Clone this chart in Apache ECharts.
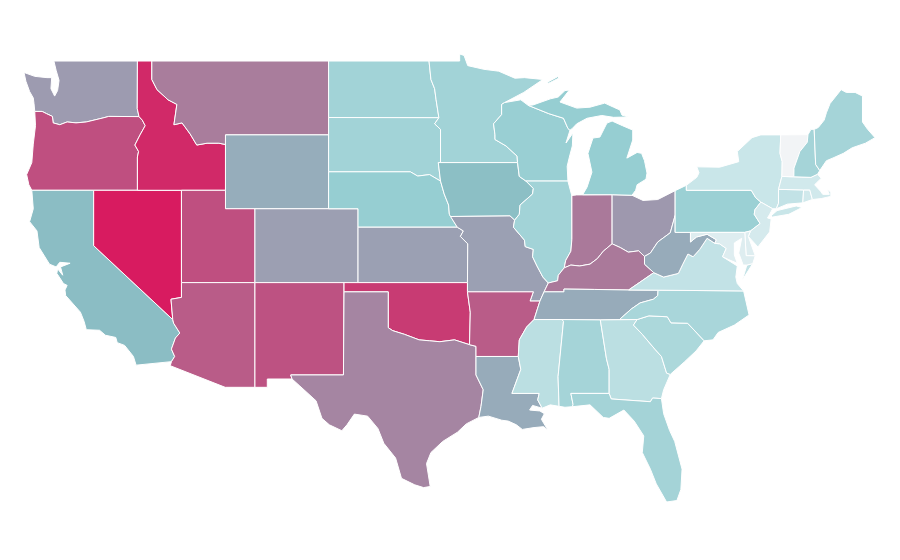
<!DOCTYPE html>
<html><head><meta charset="utf-8">
<style>html,body{margin:0;padding:0;background:#fff}#c{width:900px;height:560px}</style>
<script src="https://cdn.jsdelivr.net/npm/echarts@6/dist/echarts.min.js"></script>
</head><body><div id="c"></div>
<script>
// Reading of each state's shade, on a 0-100 scale
const highShare = ["Nevada","Idaho","Oklahoma","Oregon","Utah","New Mexico","Arizona","Arkansas"];
const highValues = [100,96,91,85,85,84,81,81];
const midShare = ["Indiana","Kentucky","Montana","Texas","Ohio","Washington","Colorado","Kansas","Missouri","West Virginia","Tennessee","Louisiana","Wyoming"];
const midValues = [72,72,71,68,61,60,58,57,57,51,51,51,50];
const lowShare = ["California","Iowa","Michigan","Nebraska","Wisconsin","Pennsylvania","Illinois","Minnesota","North Dakota","South Dakota","Florida","Alabama","New Hampshire","Maine","North Carolina","South Carolina","Georgia","Mississippi"];
const lowValues = [40,39,30,30,28,27,22,22,22,22,21,20,20,20,19,18,14,14];
const leastShare = ["Connecticut","Virginia","New York","Massachusetts","Rhode Island","New Jersey","Delaware","Maryland","Vermont"];
const leastValues = [12,12,10,8,8,7,5,5,0];
const shadeRamp = ['#f2f4f6','#c9e6e9','#a5d4d8','#96ced2','#8bbdc4','#96adbb','#9d9bb0','#a7809e','#b75f8a','#c63e75','#d81b60'];

// Base map: simplified state outlines in longitude/latitude
const outlines = {
"Washington":[[[-122.7,49],[-117.03,49],[-117.04,46.42],[-116.92,45.99],[-118.98,46],[-119.3,45.93],[-120.5,45.7],[-121.2,45.65],[-121.8,45.7],[-122.3,45.55],[-122.75,45.65],[-122.8,46],[-123.2,46.15],[-123.5,46.27],[-124,46.27],[-124.05,46.7],[-124.1,47],[-124.35,47.35],[-124.6,47.9],[-124.73,48.38],[-124,48.17],[-123.17,48.1],[-122.85,48.1],[-122.9,47.5],[-122.65,47.1],[-122.45,47.4],[-122.35,47.95],[-122.55,48.5]]],
"Oregon":[[[-124,46.27],[-123.5,46.27],[-123.2,46.15],[-122.8,46],[-122.75,45.65],[-122.3,45.55],[-121.8,45.7],[-121.2,45.65],[-120.5,45.7],[-119.3,45.93],[-118.98,46],[-116.92,45.99],[-116.7,45.8],[-116.5,45.5],[-116.85,45],[-117.2,44.45],[-116.95,44.1],[-117.03,43.8],[-117.03,42],[-124.2,42],[-124.4,42.3],[-124.55,42.85],[-124.2,43.5],[-124.1,44.5],[-123.95,45.5]]],
"California":[[[-124.2,42],[-120,42],[-120,39],[-114.63,35],[-114.57,34.8],[-114.15,34.27],[-114.45,34],[-114.72,33.4],[-114.5,33],[-114.72,32.72],[-117.12,32.53],[-117.3,33],[-117.9,33.6],[-118.4,33.75],[-118.5,34.03],[-119.2,34.15],[-119.6,34.42],[-120.5,34.45],[-120.65,34.9],[-120.9,35.4],[-121.9,36.3],[-121.95,36.6],[-121.8,36.85],[-122.05,36.95],[-122.5,37.5],[-122.45,37.75],[-122.1,37.4],[-122.25,37.85],[-121.6,38.05],[-122.3,38.1],[-122.55,37.85],[-123,38],[-123.7,38.9],[-123.85,39.8],[-124.35,40.3],[-124.1,41]]],
"Nevada":[[[-120,42],[-114.04,42],[-114.04,36.2],[-114.75,36.1],[-114.63,35],[-120,39]]],
"Idaho":[[[-117.03,49],[-116.05,49],[-116.05,48],[-115.7,47.45],[-114.95,46.9],[-114.35,46.65],[-114.55,45.55],[-114,45.65],[-113.45,45.05],[-113,44.45],[-112.3,44.55],[-111.5,44.55],[-111.05,44.48],[-111.05,42],[-117.03,42],[-117.03,43.8],[-116.95,44.1],[-117.2,44.45],[-116.85,45],[-116.5,45.5],[-116.7,45.8],[-116.92,45.99],[-117.04,46.42]]],
"Montana":[[[-116.05,49],[-104.05,49],[-104.05,45],[-111.05,45],[-111.05,44.48],[-111.5,44.55],[-112.3,44.55],[-113,44.45],[-113.45,45.05],[-114,45.65],[-114.55,45.55],[-114.35,46.65],[-114.95,46.9],[-115.7,47.45],[-116.05,48]]],
"Wyoming":[[[-111.05,45],[-104.05,45],[-104.05,41],[-111.05,41]]],
"Utah":[[[-114.04,42],[-111.05,42],[-111.05,41],[-109.05,41],[-109.05,37],[-114.04,37]]],
"Colorado":[[[-109.05,41],[-102.05,41],[-102.05,37],[-109.05,37]]],
"Arizona":[[[-114.04,37],[-109.05,37],[-109.05,31.33],[-111.07,31.33],[-114.8,32.5],[-114.72,32.72],[-114.5,33],[-114.72,33.4],[-114.45,34],[-114.15,34.27],[-114.57,34.8],[-114.63,35],[-114.75,36.1],[-114.04,36.2]]],
"New Mexico":[[[-109.05,37],[-103,37],[-103.04,32],[-106.62,32],[-106.53,31.78],[-108.21,31.78],[-108.21,31.33],[-109.05,31.33]]],
"North Dakota":[[[-104.05,49],[-97.23,49],[-97.1,48],[-96.85,47.5],[-96.75,46.9],[-96.56,45.93],[-104.05,45.94]]],
"South Dakota":[[[-104.05,45.94],[-96.56,45.93],[-96.85,45.6],[-96.45,45.3],[-96.45,43.5],[-96.6,43.5],[-96.45,42.5],[-97.2,42.85],[-98,42.77],[-98.5,43],[-104.05,43]]],
"Nebraska":[[[-104.05,43],[-98.5,43],[-98,42.77],[-97.2,42.85],[-96.45,42.5],[-96.2,41.8],[-95.9,41.2],[-95.85,40.7],[-95.31,40],[-102.05,40],[-102.05,41],[-104.05,41]]],
"Kansas":[[[-102.05,40],[-95.31,40],[-94.9,39.8],[-95.1,39.5],[-94.6,39.1],[-94.62,37],[-102.05,37]]],
"Oklahoma":[[[-103,37],[-94.62,37],[-94.62,36.5],[-94.43,35.4],[-94.48,33.64],[-95.5,33.9],[-96.5,33.8],[-97.2,33.85],[-97.9,33.9],[-98.9,34.2],[-99.7,34.4],[-100,34.56],[-100,36.5],[-103,36.5]]],
"Texas":[[[-103,36.5],[-100,36.5],[-100,34.56],[-99.7,34.4],[-98.9,34.2],[-97.9,33.9],[-97.2,33.85],[-96.5,33.8],[-95.5,33.9],[-94.48,33.64],[-94.04,33.55],[-94.04,32],[-93.55,31.2],[-93.7,30.3],[-93.85,29.7],[-94.7,29.35],[-95.3,28.9],[-96.3,28.4],[-97.1,27.8],[-97.4,27.2],[-97.15,25.96],[-97.6,25.9],[-98.2,26.05],[-99.1,26.4],[-99.5,27.5],[-100.3,28.3],[-100.7,29.1],[-101.4,29.77],[-102.3,29.88],[-102.8,29.3],[-103.15,28.98],[-104,29.3],[-104.5,29.65],[-104.9,30.6],[-106,31.4],[-106.53,31.78],[-106.62,32],[-103.04,32]]],
"Minnesota":[[[-97.23,49],[-95.15,49],[-95.15,49.38],[-94.85,49.3],[-94.6,48.75],[-93.5,48.55],[-92.5,48.45],[-91.4,48.07],[-90.75,48.1],[-89.5,48],[-90.8,47.3],[-92.1,46.75],[-92.3,46.65],[-92.3,46.1],[-92.85,45.6],[-92.75,45],[-92.75,44.75],[-92,44.4],[-91.25,43.85],[-91.22,43.5],[-96.45,43.5],[-96.45,45.3],[-96.85,45.6],[-96.56,45.93],[-96.75,46.9],[-96.85,47.5],[-97.1,48]]],
"Iowa":[[[-96.6,43.5],[-91.22,43.5],[-91.1,42.75],[-90.65,42.5],[-90.15,42.1],[-90.2,41.8],[-91.05,41.2],[-91.1,40.7],[-91.42,40.38],[-91.73,40.61],[-95.77,40.58],[-95.85,40.7],[-95.9,41.2],[-96.2,41.8],[-96.45,42.5]]],
"Missouri":[[[-95.77,40.58],[-91.73,40.61],[-91.42,40.38],[-91.5,40],[-90.75,39.3],[-90.7,38.95],[-90.15,38.8],[-90.2,38.4],[-89.9,37.9],[-89.5,37.3],[-89.13,36.98],[-89.42,36.5],[-89.7,36],[-90.37,36],[-90.15,36.5],[-94.62,36.5],[-94.62,37],[-94.6,39.1],[-95.1,39.5],[-94.9,39.8],[-95.31,40]]],
"Arkansas":[[[-94.62,36.5],[-90.15,36.5],[-90.37,36],[-89.7,36],[-90.1,35],[-90.6,34.6],[-91.1,33.9],[-91.17,33],[-94.04,33],[-94.04,33.55],[-94.48,33.64],[-94.43,35.4]]],
"Louisiana":[[[-94.04,33],[-91.17,33],[-91,32.3],[-91.6,31],[-89.75,31],[-89.85,30.65],[-89.55,30.2],[-90.2,30.35],[-90.4,30.1],[-89.7,30.05],[-89.4,29.9],[-89.6,29.6],[-89.15,29],[-89.45,29.2],[-90.1,29.15],[-90.9,29.05],[-91.3,29.3],[-91.85,29.5],[-92.3,29.55],[-93.2,29.77],[-93.85,29.7],[-93.7,30.3],[-93.55,31.2],[-94.04,32]]],
"Wisconsin":[[[-92.1,46.75],[-91,46.9],[-90.5,46.6],[-89.1,46.15],[-88.1,45.9],[-87.8,45.35],[-87.66,45.25],[-87.93,44.56],[-87.46,45.1],[-87.5,44.4],[-87.7,43.8],[-87.85,43.3],[-87.8,42.5],[-90.65,42.5],[-91.1,42.75],[-91.22,43.5],[-91.25,43.85],[-92,44.4],[-92.75,44.75],[-92.75,45],[-92.85,45.6],[-92.3,46.1],[-92.3,46.65]]],
"Illinois":[[[-90.65,42.5],[-87.8,42.5],[-87.55,41.75],[-87.53,39.35],[-87.6,38.7],[-87.95,38.2],[-88.05,37.8],[-88.45,37.4],[-88.5,37.1],[-89.13,36.98],[-89.5,37.3],[-89.9,37.9],[-90.2,38.4],[-90.15,38.8],[-90.7,38.95],[-90.75,39.3],[-91.5,40],[-91.42,40.38],[-91.1,40.7],[-91.05,41.2],[-90.2,41.8],[-90.15,42.1]]],
"Indiana":[[[-87.53,41.72],[-87.2,41.75],[-84.8,41.76],[-84.8,39.1],[-85.4,38.7],[-85.8,38.3],[-86.3,38],[-87,37.9],[-87.6,37.95],[-88.05,37.8],[-87.95,38.2],[-87.6,38.7],[-87.53,39.35]]],
"Ohio":[[[-84.8,41.76],[-83.45,41.73],[-82.7,41.45],[-81.7,41.5],[-80.52,41.98],[-80.52,40.64],[-80.85,39.7],[-81.7,39.2],[-82.2,38.6],[-82.6,38.42],[-83,38.72],[-83.7,38.65],[-84.25,38.9],[-84.8,39.1]]],
"Kentucky":[[[-89.42,36.5],[-89.13,36.98],[-88.5,37.1],[-88.45,37.4],[-88.05,37.8],[-87.6,37.95],[-87,37.9],[-86.3,38],[-85.8,38.3],[-85.4,38.7],[-84.8,39.1],[-84.25,38.9],[-83.7,38.65],[-83,38.72],[-82.6,38.42],[-82.6,38],[-81.97,37.54],[-83.68,36.6],[-86,36.63],[-88.07,36.65],[-88.07,36.5]]],
"Tennessee":[[[-89.42,36.5],[-88.07,36.5],[-88.07,36.65],[-86,36.63],[-83.68,36.6],[-81.68,36.59],[-81.7,36.3],[-82,36.1],[-82.9,35.9],[-83.5,35.57],[-84.3,35],[-85.6,34.98],[-88.2,35],[-90.1,35],[-89.7,36]]],
"Mississippi":[[[-90.1,35],[-88.2,35],[-88.1,34.9],[-88.47,31.9],[-88.4,30.3],[-89,30.38],[-89.55,30.2],[-89.85,30.65],[-89.75,31],[-91.6,31],[-91,32.3],[-91.17,33],[-91.1,33.9],[-90.6,34.6]]],
"Alabama":[[[-88.2,35],[-85.6,34.98],[-85.18,32.87],[-85,32.3],[-85,31],[-87.6,31],[-87.45,30.4],[-87.5,30.28],[-88,30.25],[-88.4,30.3],[-88.47,31.9],[-88.1,34.9]]],
"Georgia":[[[-85.6,34.98],[-83.1,35],[-83.35,34.7],[-82.75,34.2],[-81.9,33.4],[-81.45,33],[-81.1,32.1],[-80.85,32.03],[-81.3,31.2],[-81.45,30.72],[-82.05,30.75],[-82.2,30.55],[-84.86,30.7],[-85,31],[-85,32.3],[-85.18,32.87]]],
"Florida":[[[-87.6,31],[-85,31],[-84.86,30.7],[-82.2,30.55],[-82.05,30.75],[-81.45,30.72],[-81.3,29.9],[-80.9,29],[-80.55,28.4],[-80.05,26.9],[-80.13,25.8],[-80.4,25.2],[-81.1,25.12],[-81.8,26.1],[-82.2,26.9],[-82.75,27.8],[-82.65,28.7],[-83.3,29.5],[-84,30.1],[-85,29.65],[-85.4,29.7],[-86.3,30.38],[-87.5,30.28],[-87.45,30.4]]],
"South Carolina":[[[-83.1,35],[-82.3,35.2],[-81.05,35.15],[-80.8,34.82],[-79.67,34.8],[-78.55,33.85],[-79.1,33.3],[-79.9,32.7],[-80.85,32.03],[-81.1,32.1],[-81.45,33],[-81.9,33.4],[-82.75,34.2],[-83.35,34.7]]],
"North Carolina":[[[-84.3,35],[-83.5,35.57],[-82.9,35.9],[-82,36.1],[-81.7,36.3],[-81.68,36.59],[-75.87,36.55],[-75.5,35.25],[-76.5,34.7],[-77.6,34.3],[-77.95,33.9],[-78.55,33.85],[-79.67,34.8],[-80.8,34.82],[-81.05,35.15],[-82.3,35.2],[-83.1,35]]],
"Virginia":[[[-83.68,36.6],[-81.97,37.54],[-81.3,37.3],[-80.3,37.5],[-80,38],[-79.65,38.55],[-79.3,38.4],[-78.85,38.8],[-78.35,39.4],[-77.83,39.13],[-77.5,39.1],[-77.05,38.85],[-77.3,38.4],[-76.3,37.9],[-76.4,37.3],[-76.3,36.95],[-75.87,36.55],[-81.68,36.59]],[[-75.95,37.15],[-75.25,38.03],[-75.65,37.95]]],
"West Virginia":[[[-82.6,38.42],[-82.2,38.6],[-81.7,39.2],[-80.85,39.7],[-80.52,40.64],[-80.52,39.72],[-79.48,39.72],[-79.48,39.2],[-79.07,39.47],[-78.35,39.62],[-77.72,39.32],[-77.83,39.13],[-78.35,39.4],[-78.85,38.8],[-79.3,38.4],[-79.65,38.55],[-80,38],[-80.3,37.5],[-81.3,37.3],[-81.97,37.54],[-82.6,38]]],
"Pennsylvania":[[[-80.52,41.98],[-79.76,42.27],[-79.76,42],[-75.35,42],[-75.05,41.6],[-74.7,41.36],[-75.1,40.95],[-75.15,40.7],[-74.75,40.2],[-75.4,39.8],[-75.79,39.72],[-80.52,39.72]]],
"New York":[[[-79.76,42.27],[-79.05,42.7],[-78.9,42.95],[-79.05,43.27],[-77.5,43.25],[-76.2,43.55],[-76.3,44.1],[-75.3,44.85],[-74.7,45],[-73.35,45],[-73.4,44],[-73.25,43.55],[-73.27,42.75],[-73.5,42.05],[-73.5,41.3],[-73.65,41],[-73.9,41],[-74.7,41.36],[-75.05,41.6],[-75.35,42],[-79.76,42]],[[-74.03,40.6],[-73.6,40.9],[-72.3,41.15],[-71.9,41.07],[-72.8,40.7],[-73.9,40.55]]],
"New Jersey":[[[-74.7,41.36],[-73.9,41],[-74.1,40.7],[-74.25,40.5],[-74,40.45],[-74.1,39.75],[-74.9,38.93],[-75.55,39.5],[-75.4,39.8],[-74.75,40.2],[-75.15,40.7],[-75.1,40.95]]],
"Delaware":[[[-75.79,39.72],[-75.4,39.8],[-75.55,39.5],[-75.08,38.45],[-75.7,38.46]]],
"Maryland":[[[-79.48,39.72],[-75.79,39.72],[-75.7,38.46],[-75.08,38.45],[-75.25,38.03],[-75.65,37.95],[-75.9,37.95],[-76.2,38.6],[-76,39.4],[-76.5,39.15],[-76.5,38.5],[-76.3,38.05],[-76.9,38.25],[-77.3,38.4],[-77.05,38.85],[-77.5,39.1],[-77.83,39.13],[-77.72,39.32],[-78.35,39.62],[-79.07,39.47],[-79.48,39.2]]],
"Connecticut":[[[-73.5,42.05],[-71.8,42.02],[-71.85,41.32],[-72.9,41.25],[-73.65,41],[-73.5,41.3]]],
"Rhode Island":[[[-71.8,42.02],[-71.38,42.02],[-71.2,41.5],[-71.85,41.32]]],
"Massachusetts":[[[-73.5,42.05],[-73.27,42.75],[-72.46,42.73],[-71.3,42.7],[-70.85,42.87],[-70.6,42.65],[-71.05,42.3],[-70.65,41.95],[-70.5,41.78],[-70.05,41.78],[-70.2,42.07],[-69.95,41.9],[-69.95,41.67],[-70.6,41.55],[-71.2,41.5],[-71.38,42.02],[-71.8,42.02]]],
"Vermont":[[[-73.35,45],[-71.5,45.01],[-71.55,44.6],[-72.05,44.1],[-72.45,43.2],[-72.46,42.73],[-73.27,42.75],[-73.25,43.55],[-73.4,44]]],
"New Hampshire":[[[-71.5,45.01],[-71.3,45.3],[-71.08,45.3],[-70.98,43.4],[-70.7,43.07],[-70.85,42.87],[-71.3,42.7],[-72.46,42.73],[-72.45,43.2],[-72.05,44.1],[-71.55,44.6]]],
"Maine":[[[-71.08,45.3],[-70.8,45.4],[-70.4,45.8],[-70.25,46.2],[-70,46.7],[-69.25,47.45],[-68.9,47.3],[-68.3,47.3],[-67.8,47.1],[-67.8,45.7],[-67.45,45.3],[-66.95,44.85],[-67.6,44.55],[-68.5,44.3],[-69.1,44],[-69.8,43.75],[-70.25,43.6],[-70.7,43.07],[-70.98,43.4]]],
"Michigan":[[[-86.8,41.76],[-84.8,41.76],[-83.45,41.73],[-83.2,42],[-83.1,42.3],[-82.5,42.6],[-82.43,42.93],[-82.6,43.6],[-82.8,44],[-83.1,44.05],[-83.8,43.74],[-83.4,44.72],[-83.4,45.26],[-84.1,45.5],[-84.8,45.75],[-85.15,45.64],[-85.63,44.88],[-86.1,44.83],[-86.44,44],[-86.17,42.98],[-86.5,42.17]],[[-90.5,46.6],[-90.17,46.62],[-89,46.95],[-88.46,47.05],[-88,47.4],[-87.7,47.43],[-88.34,46.78],[-87.2,46.45],[-86.3,46.5],[-85.3,46.72],[-84.7,46.5],[-84.27,46.35],[-84.13,46.07],[-83.7,45.97],[-84.7,45.95],[-85.5,46.05],[-86.5,45.9],[-87.2,45.6],[-87.5,45.35],[-87.66,45.25],[-87.8,45.35],[-88.1,45.9],[-89.1,46.15]],[[-89.2,47.85],[-88.5,48.15],[-88.4,48.08],[-89.1,47.8]]]
};

const names = [...highShare, ...midShare, ...lowShare, ...leastShare];
const values = [...highValues, ...midValues, ...lowValues, ...leastValues];

const geoJson = {type:'FeatureCollection',features:Object.keys(outlines).map(n=>({
  type:'Feature',properties:{name:n},
  geometry:{type:'MultiPolygon',coordinates:outlines[n].map(r=>[r.concat([r[0]])])}
}))};
echarts.registerMap('usStates', geoJson);

const chart = echarts.init(document.getElementById('c'), null, {renderer:'canvas'});
chart.setOption({
  animation:false,
  backgroundColor:'#fff',
  tooltip:{show:false},
  visualMap:{show:false,type:'continuous',min:0,max:100,inRange:{color:shadeRamp}},
  series:[{
    type:'map',map:'usStates',silent:true,roam:false,
    aspectScale:0.798,
    boundingCoords:[[-124.73,49.38],[-66.95,25.12]],
    left:24,top:54,width:851,height:448,
    label:{show:false},
    itemStyle:{borderColor:'#ffffff',borderWidth:1},
    emphasis:{disabled:true},
    data:names.map((n,i)=>({name:n,value:values[i]}))
  }]
});
</script></body></html>
